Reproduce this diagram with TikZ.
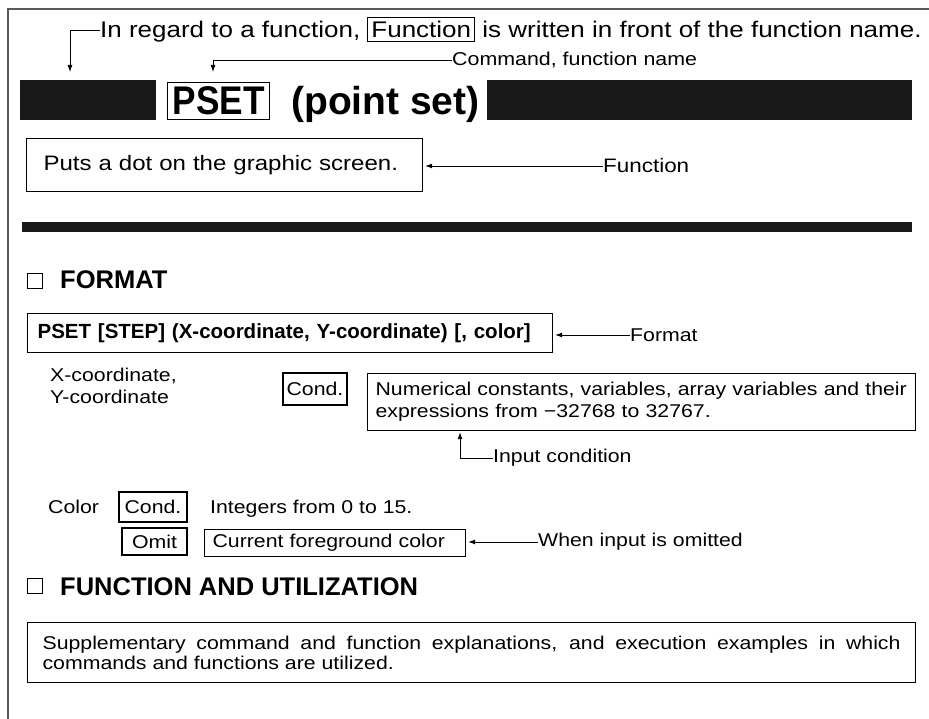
\documentclass[tikz,border=0pt]{standalone}
\usepackage{fontspec}
\setmainfont{Liberation Sans}[FakeStretch=1.15]
\newfontfamily\hd{Liberation Sans}
\newfontfamily\hdc{Liberation Sans}[FakeStretch=0.88]
\usetikzlibrary{arrows.meta}
\tikzset{
  frame/.style={draw=black!65, line width=1.2pt},
  box/.style={draw, line width=1.2pt, inner sep=0pt},
  arr/.style={-{Latex[length=7pt,width=5pt]}, line width=0.9pt},
  txt/.style={inner sep=0pt},
  body/.style={font=\fontsize{18.5}{22}\selectfont},
  bar/.style={fill=black!90, inner sep=0pt, minimum height=40pt, anchor=north west},
  sq/.style={draw, line width=1.3pt, minimum width=15pt, minimum height=15pt, inner sep=0pt, anchor=north west},
  head/.style={inner sep=0pt, anchor=base west, font=\hd\bfseries\fontsize{25.5}{28}\selectfont},
}
\begin{document}
\begin{tikzpicture}[x=1pt,y=-1pt]
\useasboundingbox[fill=white] (0,0) rectangle (929,719);
% frame
\draw[frame] (8,719) -- (8,9) -- (929,9);

% top annotations
\node[txt, anchor=west, font=\fontsize{22.6}{26}\selectfont] (t1) at (100,30)
  {In regard to a function, {\setlength\fboxsep{3pt}\setlength\fboxrule{1pt}\fbox{Function}} is written in front of the function name.};
\node[txt, anchor=west, font=\fontsize{18.6}{22}\selectfont] (t2) at (452,60) {Command, function name};

% title bar
\node[bar, minimum width=136pt] (bar1) at (20,80) {};
\node[box, anchor=west, inner xsep=5pt, text height=28pt, text depth=0pt, inner ysep=4.5pt,
      font=\hdc\bfseries\fontsize{40}{42}\selectfont] (pset) at (167,101) {PSET};
\node[txt, anchor=base west, font=\hd\bfseries\fontsize{39}{42}\selectfont] (ps) at (291,115) {(point set)};
\node[bar, minimum width=425pt] (bar2) at (487,80) {};

\coordinate (c1) at (70,72);
\coordinate (c2) at (213,72);
\draw[arr] (t1.west) -| (c1);
\draw[arr] (t2.west) -| (c2);

% function box
\node[box, anchor=north west, minimum height=52pt, text width=362pt, inner xsep=17pt, align=left,
      text height=15pt, text depth=4pt, inner ysep=17pt,
      font=\fontsize{20.9}{24}\selectfont] (puts) at (26,138) {Puts a dot on the graphic screen.};
\node[txt, anchor=west, font=\fontsize{19.5}{22}\selectfont] (fn) at (603,166) {Function};
\draw[arr, shorten >=2pt] (fn.west) -- (fn.west -| puts.east);

% thick rule
\draw[line width=10pt, black!90] (22,227) -- (912,227);

% FORMAT
\node[sq] (sq1) at (27,273) {};
\node[head] (fmt) at (60,289) {FORMAT};

\node[box, anchor=north west, minimum height=39pt, text width=505pt, inner xsep=10pt, align=left,
      font=\hd\bfseries\fontsize{20.5}{24}\selectfont] (fbox) at (27,313)
  {PSET [STEP] (X-coordinate, Y-coordinate) [, color]};
\node[txt, anchor=west, body] (flab) at (630,335) {Format};
\draw[arr, shorten >=2pt] (flab.west) -- (flab.west -| fbox.east);

\node[txt, anchor=north west, align=left, body] (xy) at (50,368) {X-coordinate,\\Y-coordinate};
\node[box, minimum width=64pt, minimum height=32pt, body] (cond1) at (315,389) {Cond.};
\node[box, anchor=north west, minimum height=57pt, text width=532pt, inner xsep=8pt, align=left, body] (big) at (367,373)
  {Numerical constants, variables, array variables and their\\expressions from −32768 to 32767.};
\node[txt, anchor=west, body] (ic) at (493,458) {Input condition};
\draw[arr, shorten >=1pt] (ic.west) -| ([xshift=93pt]big.south west);

% Color
\node[txt, anchor=base west, body] (col) at (48,513) {Color};
\node[box, minimum width=68pt, minimum height=30pt, body] (cond2) at (153,507) {Cond.};
\node[txt, anchor=base west, body] (ints) at (210,513) {Integers from 0 to 15.};
\node[box, minimum width=65pt, minimum height=27pt, body] (omit) at (154.5,541.5) {Omit};
\node[box, anchor=north west, minimum height=27pt, text width=245pt, inner xsep=8pt, align=left, body] (cur) at (204,529)
  {Current foreground color};
\node[txt, anchor=west, body] (wio) at (538,542) {When input is omitted};
\draw[arr, shorten >=2pt] (wio.west) -- (wio.west -| cur.east);

% FUNCTION AND UTILIZATION
\node[sq] (sq2) at (27,578) {};
\node[head] (fau) at (60,595) {FUNCTION AND UTILIZATION};
\node[box, anchor=north west, minimum height=60pt, text width=858pt, inner xsep=15pt, align=justify,
      font=\fontsize{18.5}{20}\selectfont] (sup) at (27,622)
  {\hyphenpenalty=10000 Supplementary command and function explanations, and execution examples in which\linebreak commands and functions are utilized.};
\end{tikzpicture}
\end{document}
